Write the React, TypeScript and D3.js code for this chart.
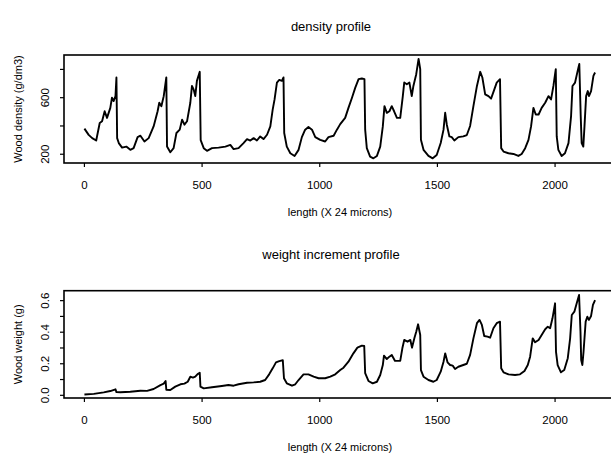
import React from "react";
import * as d3 from "d3";

const densityX = [0,18,33,50,65,75,86,96,110,117,124,132,136,139,146,160,178,195,209,226,238,255,273,294,311,318,327,337,348,351,365,379,391,405,415,425,436,450,457,464,471,478,490,494,507,521,542,570,599,620,634,655,676,691,705,719,733,747,761,776,790,800,808,818,828,839,846,849,860,875,893,910,924,938,952,967,981,1002,1023,1037,1059,1073,1087,1108,1122,1137,1151,1165,1179,1190,1193,1200,1214,1228,1243,1257,1268,1275,1285,1296,1306,1316,1328,1342,1353,1359,1370,1381,1391,1398,1410,1420,1427,1430,1441,1462,1480,1497,1514,1526,1533,1540,1551,1561,1572,1589,1610,1625,1639,1653,1668,1682,1691,1703,1717,1728,1742,1752,1766,1771,1781,1802,1823,1844,1858,1873,1887,1898,1908,1918,1930,1943,1958,1972,1983,1993,2003,2007,2014,2028,2042,2057,2068,2074,2085,2096,2103,2109,2113,2120,2125,2132,2139,2144,2153,2163,2170];
const densityY = [381,337,314,297,421,433,504,457,528,600,576,611,743,314,279,247,254,231,243,321,331,290,314,397,504,564,540,611,743,254,214,243,350,374,445,409,433,564,683,659,611,719,783,300,243,224,243,247,254,266,236,243,279,307,297,314,297,326,307,338,397,516,588,707,726,719,743,350,254,207,188,231,321,374,393,374,321,302,290,321,331,374,413,457,528,600,671,731,736,731,374,243,183,171,188,254,397,540,493,504,540,504,457,457,611,707,695,707,611,683,766,874,802,302,231,188,171,195,279,374,493,409,326,321,297,321,326,336,400,540,683,783,743,624,611,593,659,707,731,243,219,207,202,188,202,243,302,397,528,481,481,528,564,611,588,683,802,326,231,188,207,279,469,683,707,790,838,469,279,254,397,611,647,611,647,754,778];

const weightX = [0,40,82,110,132,136,153,195,238,266,294,323,337,345,348,365,386,408,425,439,450,461,471,481,490,493,507,542,584,612,634,655,691,719,747,768,785,800,814,828,843,848,860,882,896,910,931,952,974,995,1023,1045,1066,1087,1101,1122,1143,1160,1179,1189,1193,1207,1225,1243,1257,1268,1273,1285,1296,1306,1320,1342,1351,1359,1373,1385,1392,1402,1410,1418,1427,1430,1441,1462,1483,1497,1514,1526,1533,1543,1554,1565,1575,1589,1610,1625,1639,1653,1668,1679,1689,1699,1713,1724,1738,1752,1766,1771,1781,1802,1830,1851,1870,1884,1894,1905,1915,1930,1943,1958,1969,1979,1989,2000,2004,2011,2025,2039,2054,2064,2071,2082,2092,2102,2108,2111,2116,2121,2130,2137,2144,2153,2161,2170];
const weightY = [0.005,0.009,0.019,0.027,0.038,0.02,0.019,0.023,0.029,0.028,0.04,0.065,0.074,0.091,0.035,0.034,0.055,0.07,0.074,0.086,0.118,0.112,0.118,0.135,0.143,0.055,0.044,0.051,0.059,0.065,0.061,0.07,0.08,0.082,0.086,0.097,0.133,0.171,0.209,0.217,0.222,0.108,0.076,0.061,0.07,0.097,0.133,0.133,0.118,0.108,0.108,0.118,0.133,0.16,0.175,0.213,0.266,0.302,0.315,0.313,0.14,0.091,0.076,0.086,0.129,0.192,0.251,0.23,0.245,0.256,0.218,0.218,0.298,0.351,0.34,0.351,0.302,0.361,0.403,0.45,0.382,0.16,0.118,0.097,0.086,0.097,0.15,0.213,0.266,0.209,0.192,0.188,0.167,0.181,0.192,0.2,0.256,0.361,0.457,0.478,0.446,0.376,0.372,0.365,0.425,0.457,0.467,0.171,0.146,0.133,0.129,0.133,0.154,0.192,0.245,0.361,0.336,0.351,0.382,0.419,0.435,0.425,0.488,0.583,0.276,0.192,0.146,0.16,0.235,0.361,0.509,0.53,0.583,0.636,0.403,0.224,0.192,0.276,0.467,0.498,0.478,0.503,0.573,0.604];

const xTicks = [0, 500, 1000, 1500, 2000];
const densityTicks = [200, 400, 600, 800];
const densityLabels = ["200", "", "600", ""];
const weightTicks = [0, 0.1, 0.2, 0.3, 0.4, 0.5, 0.6];
const weightLabels = ["0.0", "", "0.2", "", "0.4", "", "0.6"];

const FONT = "'Liberation Sans', Arial, Helvetica, sans-serif";
const xScale = d3.scaleLinear().domain([-86.8, 2256.8]).range([64, 615.5]);

type PanelProps = {
  title: string;
  yTitle: string;
  xs: number[];
  ys: number[];
  yDomain: [number, number];
  top: number;
  bottom: number;
  yTicks: number[];
  yLabels: string[];
  titleY: number;
};

function Panel(p: PanelProps) {
  const y = d3.scaleLinear().domain(p.yDomain).range([p.bottom, p.top]);
  const pts: [number, number][] = p.xs.map((v, i) => [v, p.ys[i]]);
  const line = d3
    .line<[number, number]>()
    .x((d) => xScale(d[0]))
    .y((d) => y(d[1]));
  const left = xScale.range()[0];
  const right = xScale.range()[1];
  const midY = (p.top + p.bottom) / 2;
  return (
    <g>
      <text x={331} y={p.titleY} textAnchor="middle" fontSize={13} fontFamily={FONT} fill="#000">
        {p.title}
      </text>
      <rect x={left} y={p.top} width={right - left} height={p.bottom - p.top} fill="none" stroke="#000" strokeWidth={1.6} />
      <path d={line(pts) || ""} fill="none" stroke="#000" strokeWidth={1.9} strokeLinejoin="round" />
      {xTicks.map((t) => (
        <g key={"x" + t}>
          <line x1={xScale(t)} x2={xScale(t)} y1={p.bottom} y2={p.bottom + 4} stroke="#000" strokeWidth={1.2} />
          <text x={xScale(t)} y={p.bottom + 26} textAnchor="middle" fontSize={11.5} fontFamily={FONT} fill="#000">
            {t}
          </text>
        </g>
      ))}
      {p.yTicks.map((t, i) => (
        <g key={"y" + t}>
          <line x1={left - 4} x2={left} y1={y(t)} y2={y(t)} stroke="#000" strokeWidth={1.2} />
          {p.yLabels[i] && (
            <text
              transform={`translate(48.5,${y(t)}) rotate(-90)`}
              textAnchor="middle"
              fontSize={11.5}
              fontFamily={FONT}
              fill="#000"
            >
              {p.yLabels[i]}
            </text>
          )}
        </g>
      ))}
      <text x={340} y={p.bottom + 52.5} textAnchor="middle" fontSize={11} fontFamily={FONT} fill="#000">
        length (X 24 microns)
      </text>
      <text
        transform={`translate(21.5,${midY}) rotate(-90)`}
        textAnchor="middle"
        fontSize={11}
        fontFamily={FONT}
        fill="#000"
      >
        {p.yTitle}
      </text>
    </g>
  );
}

export default function App() {
  return (
    <svg
      width={611}
      height={455}
      style={{ position: "absolute", left: 0, top: 0, background: "#fff" }}
    >
      <rect x={0} y={0} width={611} height={455} fill="#fff" />
      <Panel
        title="density profile"
        yTitle="Wood density (g/dm3)"
        xs={densityX}
        ys={densityY}
        yDomain={[138, 902]}
        top={55}
        bottom={163}
        yTicks={densityTicks}
        yLabels={densityLabels}
        titleY={31}
      />
      <Panel
        title="weight increment profile"
        yTitle="Wood weight (g)"
        xs={weightX}
        ys={weightY}
        yDomain={[-0.017, 0.663]}
        top={290.7}
        bottom={398}
        yTicks={weightTicks}
        yLabels={weightLabels}
        titleY={259}
      />
    </svg>
  );
}
